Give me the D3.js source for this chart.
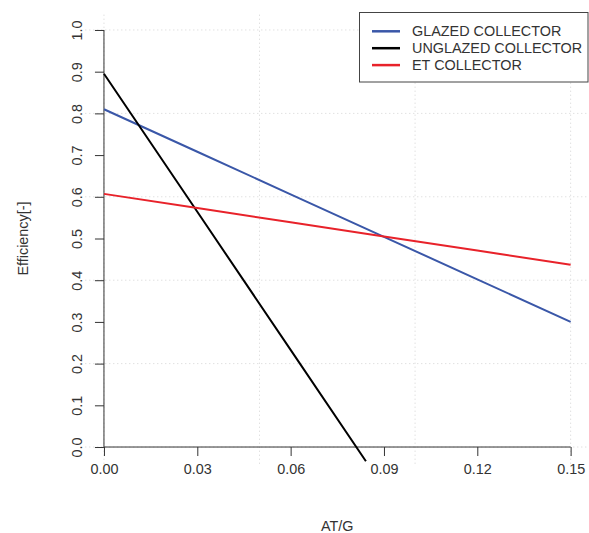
<!DOCTYPE html>
<html><head><meta charset="utf-8">
<script src="https://cdn.jsdelivr.net/npm/d3@7"></script>
<style>body{margin:0;background:#fff}svg{display:block;font-family:"Liberation Sans",Arial,sans-serif}</style>
</head><body><svg id="c" width="589" height="533"></svg>
<script>
const seriesNames = ["GLAZED COLLECTOR", "UNGLAZED COLLECTOR", "ET COLLECTOR"];
const seriesColors = ["#3a57a8", "#000000", "#e8222a"];
const glazedX = [0, 0.03, 0.06, 0.09, 0.12, 0.15];
const glazedY = [0.81, 0.708, 0.606, 0.504, 0.402, 0.30];
const unglazedX = [0, 0.03, 0.06, 0.0842];
const unglazedY = [0.895, 0.564, 0.233, -0.034];
const etX = [0, 0.03, 0.06, 0.09, 0.12, 0.15];
const etY = [0.607, 0.573, 0.539, 0.505, 0.471, 0.437];
const xTicks = [0, 0.03, 0.06, 0.09, 0.12, 0.15];
const yTicks = [0, 0.1, 0.2, 0.3, 0.4, 0.5, 0.6, 0.7, 0.8, 0.9, 1.0];
const xGrid = [0, 0.05, 0.10, 0.15];
const yGrid = [0, 0.2, 0.4, 0.6, 0.8, 1.0];

const FS = 14.4;
const svg = d3.select("#c");
const x = d3.scaleLinear().domain([-0.006, 0.156]).range([85.3, 589.3]);
const y = d3.scaleLinear().domain([-0.04, 1.04]).range([463.7, 13.3]);
const [x0, x1] = x.domain(), [y0, y1] = y.domain();

// grid
const g = svg.append("g").attr("stroke", "#d3d3d3").attr("stroke-dasharray", "1,3").attr("stroke-width", 1);
xGrid.forEach(v => g.append("line").attr("x1", x(v)).attr("x2", x(v)).attr("y1", y(y0)).attr("y2", y(y1)));
yGrid.forEach(v => g.append("line").attr("x1", x(x0)).attr("x2", x(x1)).attr("y1", y(v)).attr("y2", y(v)));

// axes
const xa = svg.append("g").attr("transform", `translate(0,${y(0)})`)
  .call(d3.axisBottom(x).tickValues(xTicks).tickFormat(d3.format(".2f")).tickSize(9).tickPadding(8));
const ya = svg.append("g").attr("transform", `translate(${x(0)},0)`)
  .call(d3.axisLeft(y).tickValues(yTicks).tickFormat(d3.format(".1f")).tickSize(9).tickPadding(8));
[xa, ya].forEach(a => {
  a.select(".domain").remove();
  a.selectAll("line").attr("stroke", "#333").attr("stroke-width", 1);
  a.selectAll("text").attr("fill", "#333").attr("font-size", FS).attr("font-family", "Liberation Sans, Arial, sans-serif");
});
xa.append("line").attr("x1", x(0)).attr("x2", x(0.15)).attr("stroke", "#333");
ya.append("line").attr("y1", y(0)).attr("y2", y(1)).attr("stroke", "#333");
ya.selectAll(".tick text").each(function() {
  d3.select(this).attr("x", null).attr("dy", null).attr("y", 0).attr("text-anchor", "middle")
    .attr("transform", "translate(-22,0) rotate(-90)");
});

// axis titles
svg.append("text").attr("x", (x(0) + x(0.15)) / 2).attr("y", 531).attr("text-anchor", "middle")
  .attr("font-size", FS).attr("fill", "#333").text("AT/G");
svg.append("text").attr("transform", `translate(28,${(y(0) + y(1)) / 2}) rotate(-90)`).attr("text-anchor", "middle")
  .attr("font-size", FS).attr("fill", "#333").text("Efficiency[-]");

// lines
const line = d3.line().x(d => x(d[0])).y(d => y(d[1]));
const data = [d3.zip(glazedX, glazedY), d3.zip(unglazedX, unglazedY), d3.zip(etX, etY)];
data.forEach((d, i) => svg.append("path").datum(d).attr("d", line).attr("fill", "none")
  .attr("stroke", seriesColors[i]).attr("stroke-width", 2));

// legend
const lg = svg.append("g");
lg.append("rect").attr("x", 359.5).attr("y", 12.5).attr("width", 228.5).attr("height", 69.5)
  .attr("fill", "#fff").attr("stroke", "#444").attr("stroke-width", 1);
seriesNames.forEach((n, i) => {
  const yy = 31.3 + i * 16.9;
  lg.append("line").attr("x1", 372).attr("x2", 400).attr("y1", yy).attr("y2", yy)
    .attr("stroke", seriesColors[i]).attr("stroke-width", 2.5);
  lg.append("text").attr("x", 412).attr("y", yy + 5).attr("font-size", FS).attr("fill", "#333").text(n);
});
</script></body></html>
